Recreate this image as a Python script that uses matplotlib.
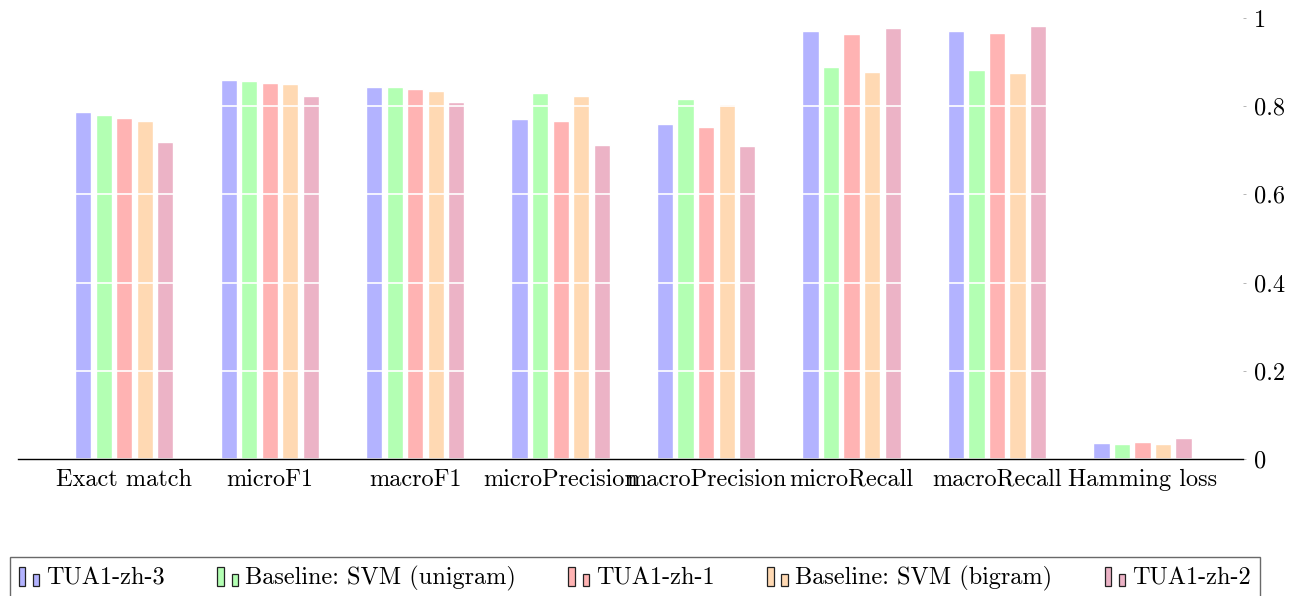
import numpy as np
import matplotlib
matplotlib.use("Agg")
import matplotlib.pyplot as plt
from matplotlib.patches import Patch, Rectangle
from matplotlib.legend_handler import HandlerBase

# metrics on the x axis
metrics = ["Exact match", "microF1", "macroF1", "microPrecision",
           "macroPrecision", "microRecall", "macroRecall", "Hamming loss"]

# one list per system, same order as metrics
tua1_zh_3 = [0.787, 0.859, 0.844, 0.772, 0.760, 0.970, 0.971, 0.036]
svm_unigram = [0.780, 0.857, 0.843, 0.831, 0.816, 0.888, 0.883, 0.034]
tua1_zh_1 = [0.773, 0.853, 0.838, 0.766, 0.753, 0.963, 0.965, 0.038]
svm_bigram = [0.766, 0.850, 0.834, 0.824, 0.806, 0.878, 0.876, 0.035]
tua1_zh_2 = [0.719, 0.823, 0.809, 0.711, 0.710, 0.977, 0.982, 0.047]

labels = ["TUA1-zh-3", "Baseline: SVM (unigram)", "TUA1-zh-1",
          "Baseline: SVM (bigram)", "TUA1-zh-2"]
series = [tua1_zh_3, svm_unigram, tua1_zh_1, svm_bigram, tua1_zh_2]
colors = ["#b3b3ff", "#b3ffb3", "#ffb3b3", "#ffd9b3", "#ecb3c6"]
yticks = [0, 0.2, 0.4, 0.6, 0.8, 1]

plt.rcParams['font.family'] = ['cmr10', 'DejaVu Serif']
plt.rcParams['axes.formatter.use_mathtext'] = True
plt.rcParams['font.size'] = 17.5


class TwoBarHandler(HandlerBase):
    # pgfplots-style ybar legend image: two little bars
    def create_artists(self, legend, orig_handle, xdescent, ydescent,
                       width, height, fontsize, trans):
        fc = orig_handle.get_facecolor()
        x0, y0 = -xdescent, -ydescent - 0.12 * height
        h = height * 1.1
        r1 = Rectangle((x0, y0), 0.3 * width, h, facecolor=fc,
                       edgecolor="#222222", lw=0.9, transform=trans)
        r2 = Rectangle((x0 + 0.65 * width, y0), 0.3 * width, h * 0.66,
                       facecolor=fc, edgecolor="#222222", lw=0.9,
                       transform=trans)
        return [r1, r2]


fig = plt.figure(figsize=(12.96, 5.96), dpi=100)
ax = fig.add_axes([18 / 1296, 1 - 459 / 596, (1243 - 18) / 1296, (459 - 18) / 596])

x = np.arange(len(metrics))
step = 0.141
width = 0.112
for i, (vals, c) in enumerate(zip(series, colors)):
    ax.bar(x + (i - 2) * step, vals, width, color=c,
           edgecolor="white", linewidth=1.0, zorder=1)

ax.set_xlim(-0.73, 7.69)
ax.set_ylim(0, 1)
ax.set_yticks(yticks)
ax.set_yticklabels(["0", "0.2", "0.4", "0.6", "0.8", "1"])
ax.set_xticks(x)
ax.set_xticklabels(metrics)

# white grid lines cut through the bars
ax.set_axisbelow(False)
ax.yaxis.grid(True, color="white", linewidth=1.2)
ax.xaxis.grid(False)

ax.yaxis.tick_right()
ax.tick_params(axis="y", length=2, width=0.5, color="#999999", pad=6)
ax.tick_params(axis="x", length=0, pad=7)
for s in ["left", "right", "top"]:
    ax.spines[s].set_visible(False)
ax.spines["bottom"].set_linewidth(1.0)
ax.spines["bottom"].set_zorder(3)

handles = [Patch(facecolor=c) for c in colors]
leg = fig.legend(handles, labels, ncol=5, loc="upper left",
                 bbox_to_anchor=(10 / 1296, 1 - 557 / 596),
                 handler_map={Patch: TwoBarHandler()},
                 fancybox=False, frameon=True, edgecolor="#444444",
                 handlelength=0.9, handletextpad=0.25, columnspacing=2.15,
                 borderpad=0.35, borderaxespad=0)
leg.get_frame().set_linewidth(1.0)

fig.savefig("out.png", dpi=100)
